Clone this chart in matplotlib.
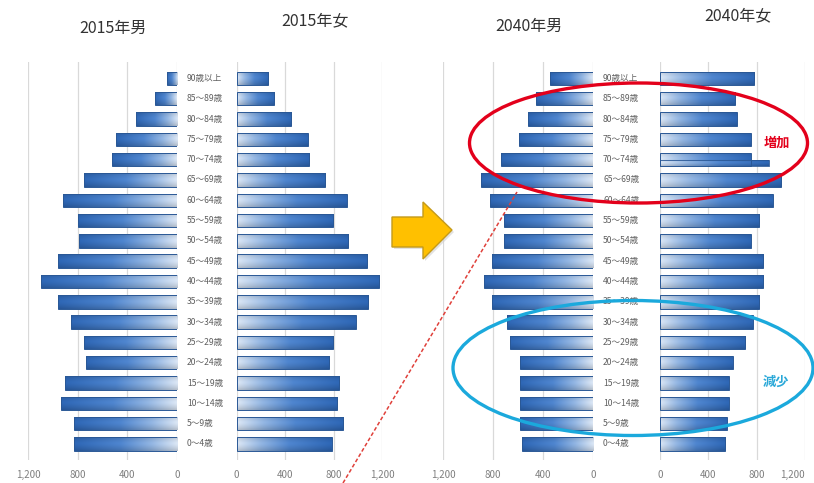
import matplotlib
matplotlib.use("Agg")
import matplotlib.pyplot as plt
import numpy as np
from matplotlib.colors import to_rgb
from matplotlib.patches import Ellipse, Polygon

plt.rcParams["font.family"] = ["Noto Sans CJK JP", "DejaVu Sans"]

# age groups, bottom row first
ages = ["0～4歳", "5～9歳", "10～14歳", "15～19歳", "20～24歳", "25～29歳",
        "30～34歳", "35～39歳", "40～44歳", "45～49歳", "50～54歳", "55～59歳",
        "60～64歳", "65～69歳", "70～74歳", "75～79歳", "80～84歳", "85～89歳",
        "90歳以上"]

male_2015 = [831, 831, 933, 903, 736, 747, 855, 957, 1099, 962,
             788, 796, 917, 747, 521, 492, 333, 175, 83]
female_2015 = [782, 879, 829, 846, 760, 796, 980, 1085, 1172, 1076,
               920, 796, 906, 727, 596, 585, 447, 307, 261]
male_2040 = [570, 584, 584, 584, 584, 664, 686, 810, 872, 810,
             712, 710, 824, 896, 736, 590, 518, 456, 344]
female_2040 = [538, 552, 571, 571, 602, 704, 767, 822, 855, 855,
               753, 820, 933, 1002, 753, 753, 635, 621, 781]
# second, lower strip drawn on the 2040 female 70-74 row
female_2040_7074_lower = 902

ticks = [0, 400, 800, 1200]
tick_labels = ["0", "400", "800", "1,200"]

W, H = 814, 483
fig = plt.figure(figsize=(W / 100, H / 100), dpi=100)
fig.patch.set_facecolor("white")


def px_rect(x0, x1, y_top, y_bot):
    return [x0 / W, 1 - y_bot / H, (x1 - x0) / W, (y_bot - y_top) / H]


def bar_image(n=200, m=24):
    # horizontal gradient: light near zero, darker blue at the outer end
    stops = [(0.0, "#dde8f6"), (0.25, "#94b7e4"), (0.55, "#4f86d0"), (1.0, "#2e67b6")]
    t = np.linspace(0, 1, n)
    cols = np.zeros((n, 3))
    for k in range(3):
        cols[:, k] = np.interp(t, [s[0] for s in stops], [to_rgb(s[1])[k] for s in stops])
    v = np.linspace(0, 1, m)
    shade = 1 - 0.22 * np.abs(v - 0.45) ** 1.5 * 2
    img = cols[None, :, :] * shade[:, None, None]
    return np.clip(img, 0, 1)


IMG = bar_image()


def draw_side(ax, values, flip):
    y = np.arange(len(values))
    bars = ax.barh(y, values, height=0.66, color="none", edgecolor="#2a5896",
                   linewidth=0.7, zorder=3)
    for bar in bars:
        x0, y0 = bar.get_x(), bar.get_y()
        w, h = bar.get_width(), bar.get_height()
        im = ax.imshow(IMG, extent=[x0, x0 + w, y0, y0 + h], aspect="auto",
                       interpolation="bilinear", zorder=2)
        im.set_clip_path(bar)
    ax.set_ylim(-0.8, len(values) - 0.2)
    ax.set_xlim((1200, 0) if flip else (0, 1200))
    ax.set_xticks(ticks)
    ax.set_xticklabels(tick_labels)
    ax.set_yticks([])
    ax.tick_params(axis="x", length=0, pad=7, labelsize=7, labelcolor="#7f7f7f")
    ax.grid(axis="x", color="#d9d9d9", linewidth=0.9)
    ax.set_axisbelow(True)
    for s in ax.spines.values():
        s.set_visible(False)
    ax.patch.set_alpha(0)
    return bars


row_top, row_bot = 62.2, 460.2
ax_m15 = fig.add_axes(px_rect(28, 177, row_top, row_bot))
ax_f15 = fig.add_axes(px_rect(236.7, 382.3, row_top, row_bot))
ax_m40 = fig.add_axes(px_rect(443, 593, row_top, row_bot))
ax_f40 = fig.add_axes(px_rect(660, 805, row_top, row_bot))

draw_side(ax_m15, male_2015, True)
draw_side(ax_f15, female_2015, False)
draw_side(ax_m40, male_2040, True)
draw_side(ax_f40, female_2040, False)

# the last tick label sits at the figure edge
ax_f40.get_xticklabels()[-1].set_horizontalalignment("right")

# lower strip on the 70-74 row
idx = ages.index("70～74歳")
extra = ax_f40.barh(idx - 0.17, female_2040_7074_lower, height=0.33, color="none",
                    edgecolor="#2a5896", linewidth=0.6, zorder=3)[0]
im = ax_f40.imshow(IMG, extent=[0, female_2040_7074_lower, idx - 0.335, idx - 0.005],
                   aspect="auto", interpolation="bilinear", zorder=2)
im.set_clip_path(extra)
ax_f40.set_xlim(0, 1200)
ax_f40.set_ylim(-0.8, len(ages) - 0.2)

# age labels in the gap between the two halves
for ax, x_px, x0, x1 in [(ax_m15, 187, 28, 177), (ax_m40, 603, 443, 593)]:
    tr = matplotlib.transforms.blended_transform_factory(ax.transAxes, ax.transData)
    fx = (x_px - x0) / (x1 - x0)
    for i, lab in enumerate(ages):
        ax.text(fx, i, lab, transform=tr, ha="left", va="center", fontsize=6.2,
                color="#5f5f5f", clip_on=False)

# overlay in pixel coordinates for titles and annotations
ov = fig.add_axes([0, 0, 1, 1], zorder=10)
ov.set_xlim(0, W)
ov.set_ylim(H, 0)
ov.axis("off")
ov.patch.set_alpha(0)

title_kw = dict(ha="center", va="center", fontsize=11.5, color="#333333")
ov.text(113, 28, "2015年男", **title_kw)
ov.text(315, 21, "2015年女", **title_kw)
ov.text(529, 26, "2040年男", **title_kw)
ov.text(738, 16, "2040年女", **title_kw)

arrow_pts = [(392, 217), (423, 217), (423, 202), (452, 230),
             (423, 259), (423, 247), (392, 247)]
shadow = Polygon([(x + 2, y + 2) for x, y in arrow_pts], closed=True,
                 facecolor="#d0d0d0", edgecolor="none", alpha=0.6)
ov.add_patch(shadow)
ov.add_patch(Polygon(arrow_pts, closed=True, facecolor="#ffc000",
                     edgecolor="#c49a1a", linewidth=1.0))

ov.plot([343, 517], [483, 192], color="#e0403a", linewidth=1.1,
        linestyle=(0, (2.5, 1.5)))

ov.add_patch(Ellipse((638.5, 143), 338, 120, fill=False, edgecolor="#e3001b",
                     linewidth=2.4))
ov.add_patch(Ellipse((633, 368), 360, 135, fill=False, edgecolor="#1ba9dc",
                     linewidth=2.4))
ov.text(777, 143, "増加", ha="center", va="center", fontsize=9.5,
        fontweight="bold", color="#e3001b")
ov.text(776, 382, "減少", ha="center", va="center", fontsize=9.5,
        fontweight="bold", color="#2aa8d8")

fig.savefig("out.png", dpi=100)
plt.close(fig)
